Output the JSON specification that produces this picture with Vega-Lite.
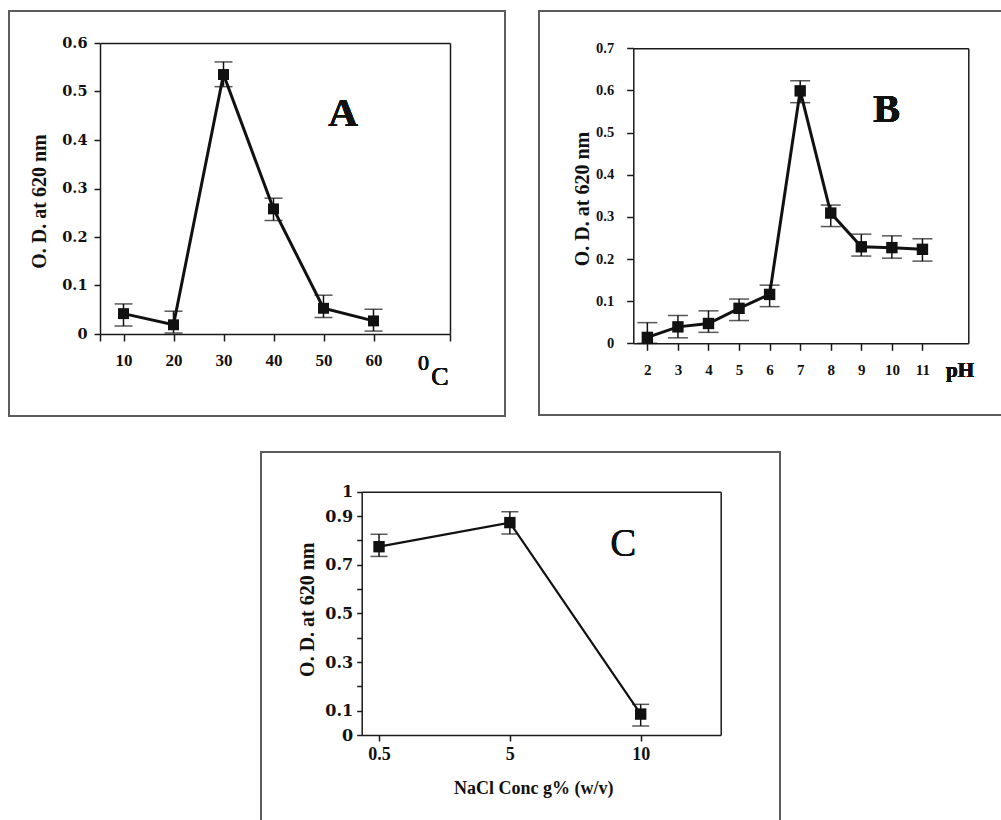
{
  "$schema": "https://vega.github.io/schema/vega-lite/v6.json",
  "padding": {"left": 8, "top": 10, "right": 0, "bottom": 0},
  "background": "white",
  "spacing": 34,
  "config": {
    "font": "Liberation Serif",
    "view": {"stroke": "#5c5c5c", "strokeWidth": 2},
    "axis": {
      "grid": false,
      "domainColor": "#1a1a1a",
      "tickColor": "#1a1a1a",
      "labelColor": "#111111",
      "titleColor": "#111111",
      "domainWidth": 1.5,
      "tickWidth": 1.5,
      "labelFont": "Liberation Serif",
      "titleFont": "Liberation Serif",
      "labelFontWeight": "bold",
      "titleFontWeight": "bold",
      "labelOverlap": false,
      "labelFlush": false
    }
  },
  "vconcat": [
    {
      "bounds": "flush",
      "spacing": 34,
      "hconcat": [
        {
          "width": 496,
          "height": 405,
          "data": {"values": [
            {"temp": 10, "od": 0.042, "lo": 0.0165, "hi": 0.062},
            {"temp": 20, "od": 0.019, "lo": 0.002, "hi": 0.047},
            {"temp": 30, "od": 0.535, "lo": 0.51, "hi": 0.561},
            {"temp": 40, "od": 0.258, "lo": 0.234, "hi": 0.28},
            {"temp": 50, "od": 0.053, "lo": 0.034, "hi": 0.08},
            {"temp": 60, "od": 0.027, "lo": 0.006, "hi": 0.051}
          ]},
          "layer": [
            {
              "mark": {"type": "errorbar", "color": "#111111", "clip": false, "ticks": {"size": 18, "thickness": 1.5}, "rule": {"strokeWidth": 1.5}},
              "encoding": {
                "x": {"field": "temp", "type": "quantitative", "scale": {"domain": [5.3, 75.3], "range": [91, 441], "nice": false, "zero": false}, "axis": null},
                "y": {"field": "lo", "type": "quantitative", "scale": {"domain": [0, 0.6], "range": [323, 32], "nice": false, "zero": false}, "axis": null},
                "y2": {"field": "hi"}
              }
            },
            {
              "mark": {"type": "line", "color": "#111111", "strokeWidth": 3, "clip": false, "point": {"shape": "square", "size": 120, "filled": true, "color": "#111111", "opacity": 1}},
              "encoding": {
                "x": {"field": "temp", "type": "quantitative", "axis": {"orient": "bottom", "offset": -82, "values": [5.3, 10, 20, 30, 40, 50, 60, 75.3], "labelExpr": "datum.value < 6 || datum.value > 70 ? '' : datum.label", "format": "d", "tickSize": 7, "labelPadding": 11, "labelFontSize": 17, "labelOverlap": false, "title": null}},
                "y": {"field": "od", "type": "quantitative", "axis": {"orient": "left", "offset": -91, "values": [0, 0.1, 0.2, 0.3, 0.4, 0.5, 0.6], "format": "~g", "tickSize": 6, "labelPadding": 7, "labelFont": "DejaVu Serif", "labelFontSize": 14.5, "labelOverlap": false, "title": "O. D. at 620 nm", "titleFontSize": 20, "titleX": -55, "titleY": 190, "titleBaseline": "alphabetic"}}
              }
            },
            {
              "mark": {"type": "text", "text": "A", "font": "Liberation Serif", "fontSize": 41, "fontWeight": "bold", "color": "#111111", "baseline": "alphabetic", "align": "center", "clip": false},
              "encoding": {
                "x": {"datum": 53.9, "type": "quantitative", "axis": {"orient": "top", "offset": -32, "ticks": false, "labels": false, "title": null}},
                "y": {"datum": 0.429, "type": "quantitative", "axis": {"orient": "right", "offset": -55, "ticks": false, "labels": false, "title": null}}
              }
            },
            {
              "mark": {"type": "text", "text": "0", "font": "Liberation Serif", "fontSize": 22, "color": "#111111", "baseline": "alphabetic", "align": "center", "clip": false},
              "encoding": {
                "x": {"datum": 70, "type": "quantitative", "axis": null},
                "y": {"datum": -0.0742, "type": "quantitative", "axis": null}
              }
            },
            {
              "mark": {"type": "text", "text": "C", "font": "Liberation Serif", "fontSize": 26, "color": "#111111", "baseline": "alphabetic", "align": "center", "clip": false},
              "encoding": {
                "x": {"datum": 73.3, "type": "quantitative", "axis": null},
                "y": {"datum": -0.1052, "type": "quantitative", "axis": null}
              }
            }
          ],
          "resolve": {"axis": {"x": "independent", "y": "independent"}}
        },
        {
          "width": 470,
          "height": 404,
          "data": {"values": [
            {"ph": 2, "od": 0.014, "lo": 0.0, "hi": 0.049},
            {"ph": 3, "od": 0.039, "lo": 0.013, "hi": 0.066},
            {"ph": 4, "od": 0.047, "lo": 0.026, "hi": 0.077},
            {"ph": 5, "od": 0.083, "lo": 0.054, "hi": 0.105},
            {"ph": 6, "od": 0.116, "lo": 0.087, "hi": 0.138},
            {"ph": 7, "od": 0.599, "lo": 0.571, "hi": 0.623},
            {"ph": 8, "od": 0.309, "lo": 0.277, "hi": 0.328},
            {"ph": 9, "od": 0.229, "lo": 0.207, "hi": 0.259},
            {"ph": 10, "od": 0.227, "lo": 0.202, "hi": 0.255},
            {"ph": 11, "od": 0.223, "lo": 0.195, "hi": 0.248}
          ]},
          "layer": [
            {
              "mark": {"type": "errorbar", "color": "#111111", "clip": false, "ticks": {"size": 20, "thickness": 1.5}, "rule": {"strokeWidth": 1.5}},
              "encoding": {
                "x": {"field": "ph", "type": "quantitative", "scale": {"domain": [1.54, 12.5], "range": [94.3, 429.3], "nice": false, "zero": false}, "axis": null},
                "y": {"field": "lo", "type": "quantitative", "scale": {"domain": [0, 0.7], "range": [332.3, 37.3], "nice": false, "zero": false}, "axis": null},
                "y2": {"field": "hi"}
              }
            },
            {
              "mark": {"type": "line", "color": "#111111", "strokeWidth": 3, "clip": false, "point": {"shape": "square", "size": 130, "filled": true, "color": "#111111", "opacity": 1}},
              "encoding": {
                "x": {"field": "ph", "type": "quantitative", "axis": {"orient": "bottom", "offset": -71.7, "values": [2, 3, 4, 5, 6, 7, 8, 9, 10, 11], "format": "d", "tickSize": 7, "labelPadding": 12, "labelFontSize": 15, "labelOverlap": false, "labelSeparation": 0, "labelBound": false, "title": null}},
                "y": {"field": "od", "type": "quantitative", "axis": {"orient": "left", "offset": -94.3, "values": [0, 0.1, 0.2, 0.3, 0.4, 0.5, 0.6, 0.7], "format": "~g", "tickSize": 6.6, "labelPadding": 13, "labelFontSize": 14.5, "labelOverlap": false, "title": "O. D. at 620 nm", "titleFontSize": 20, "titleX": -45, "titleY": 187.5, "titleBaseline": "alphabetic"}}
              }
            },
            {
              "mark": {"type": "text", "text": "B", "font": "Liberation Serif", "fontSize": 40, "fontWeight": "bold", "color": "#111111", "baseline": "alphabetic", "align": "center", "clip": false},
              "encoding": {
                "x": {"datum": 9.83, "type": "quantitative", "axis": {"orient": "top", "offset": -37.3, "ticks": false, "labels": false, "title": null}},
                "y": {"datum": 0.526, "type": "quantitative", "axis": {"orient": "right", "offset": -40.7, "ticks": false, "labels": false, "title": null}}
              }
            },
            {
              "mark": {"type": "text", "text": "pH", "font": "Liberation Serif", "fontSize": 21, "fontWeight": "bold", "color": "#111111", "baseline": "alphabetic", "align": "center", "clip": false},
              "encoding": {
                "x": {"datum": 12.23, "type": "quantitative", "axis": null},
                "y": {"datum": -0.0793, "type": "quantitative", "axis": null}
              }
            }
          ],
          "resolve": {"axis": {"x": "independent", "y": "independent"}}
        }
      ]
    },
    {
      "bounds": "flush",
      "spacing": 20,
      "hconcat": [
        {
          "width": 232,
          "height": 10,
          "view": {"stroke": null},
          "data": {"values": []},
          "mark": {"type": "point", "opacity": 0},
          "encoding": {}
        },
        {
          "width": 519,
          "height": 380,
          "data": {"values": [
            {"nacl": 0.5, "od": 0.774, "lo": 0.734, "hi": 0.825},
            {"nacl": 5, "od": 0.873, "lo": 0.826, "hi": 0.918},
            {"nacl": 10, "od": 0.086, "lo": 0.037, "hi": 0.126}
          ]},
          "layer": [
            {
              "mark": {"type": "errorbar", "color": "#111111", "clip": false, "ticks": {"size": 17, "thickness": 1.5}, "rule": {"strokeWidth": 1.5}},
              "encoding": {
                "x": {"field": "nacl", "type": "ordinal", "scale": {"type": "point", "domain": [0.5, 5, 10], "range": [100.7, 459.7], "padding": 0.372, "align": 0.178}, "axis": null},
                "y": {"field": "lo", "type": "quantitative", "scale": {"domain": [0, 1], "range": [283, 39.7], "nice": false, "zero": false}, "axis": null},
                "y2": {"field": "hi"}
              }
            },
            {
              "mark": {"type": "line", "color": "#111111", "strokeWidth": 2.2, "clip": false, "point": {"shape": "square", "size": 130, "filled": true, "color": "#111111", "opacity": 1}},
              "encoding": {
                "x": {"field": "nacl", "type": "ordinal", "axis": {"orient": "bottom", "offset": -97, "labelAngle": 0, "tickSize": 6, "labelPadding": 4, "labelFontSize": 18, "labelOverlap": false, "title": "NaCl Conc g% (w/v)", "titleFontSize": 18, "titleX": 272.3, "titleY": 58.3, "titleBaseline": "alphabetic"}},
                "y": {"field": "od", "type": "quantitative", "axis": {"orient": "left", "offset": -100.7, "values": [0, 0.1, 0.2, 0.3, 0.4, 0.5, 0.6, 0.7, 0.8, 0.9, 1], "labelExpr": "indexof([0.2, 0.4, 0.6, 0.8], datum.value) >= 0 ? '' : datum.label", "format": "~g", "tickSize": 5, "labelPadding": 4, "labelFont": "DejaVu Serif", "labelFontSize": 16, "labelOverlap": false, "title": "O. D. at 620 nm", "titleFontSize": 20, "titleX": -48.4, "titleY": 157.2, "titleBaseline": "alphabetic"}}
              }
            },
            {
              "mark": {"type": "text", "text": "C", "font": "Liberation Serif", "fontSize": 39, "color": "#111111", "baseline": "alphabetic", "align": "center", "dx": -17.4, "clip": false},
              "encoding": {
                "x": {"datum": 10, "type": "ordinal", "axis": {"orient": "top", "offset": -39.7, "ticks": false, "labels": false, "title": null}},
                "y": {"datum": 0.7357, "type": "quantitative", "axis": {"orient": "right", "offset": -59.3, "ticks": false, "labels": false, "title": null}}
              }
            }
          ],
          "resolve": {"axis": {"x": "independent", "y": "independent"}}
        }
      ]
    }
  ]
}
